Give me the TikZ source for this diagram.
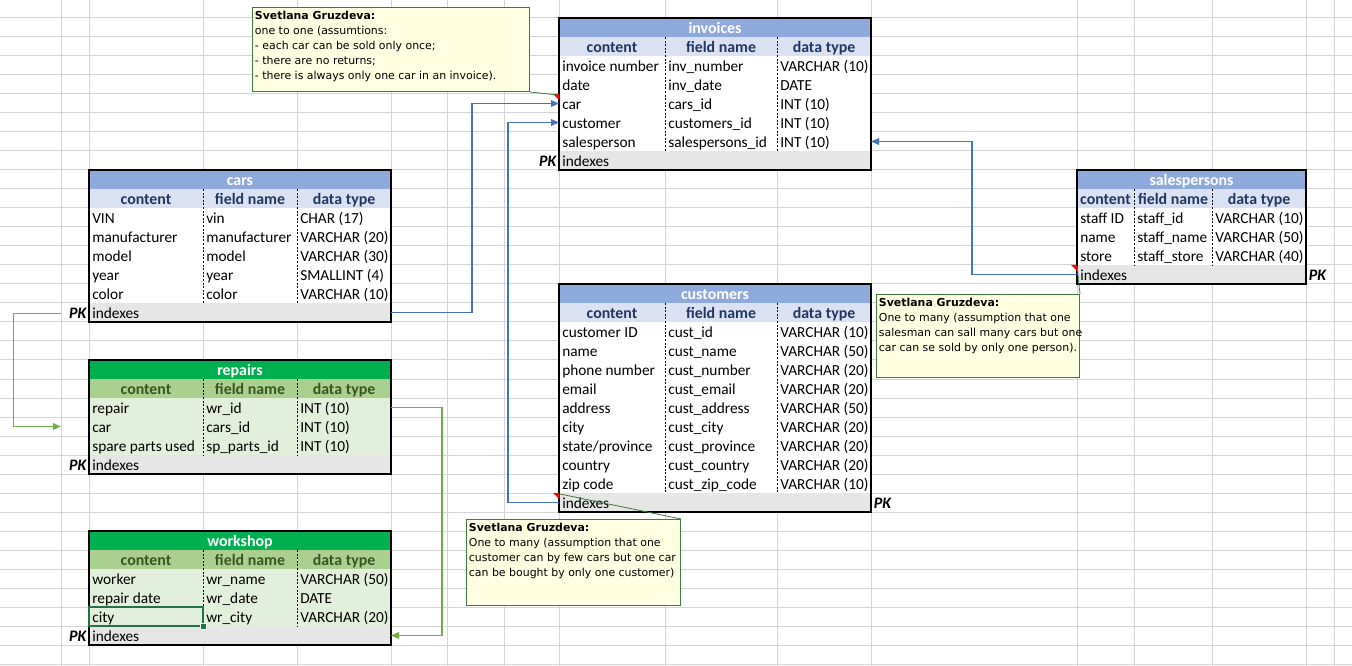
\documentclass[tikz,border=0pt]{standalone}
\usepackage{fontspec}
\setmainfont{Carlito}
\newfontfamily\notefont{DejaVu Sans}
\usetikzlibrary{arrows.meta}

\definecolor{gridgray}{HTML}{D4D4D4}
\definecolor{btitle}{HTML}{8EA9DB}
\definecolor{bhead}{HTML}{D9E1F2}
\definecolor{bbody}{HTML}{FFFFFF}
\definecolor{bheadtext}{HTML}{203764}
\definecolor{gtitle}{HTML}{00B050}
\definecolor{ghead}{HTML}{A9D08E}
\definecolor{gbody}{HTML}{E2EFDA}
\definecolor{gheadtext}{HTML}{375623}
\definecolor{idxgray}{HTML}{E7E6E6}
\definecolor{linkblue}{HTML}{4472C4}
\definecolor{linkgreen}{HTML}{70AD47}
\definecolor{notefill}{HTML}{FFFFE1}
\definecolor{noteedge}{HTML}{3E7B3E}
\definecolor{selgreen}{HTML}{217346}

\tikzset{
  gridline/.style={gridgray, line width=0.75pt},
  titletext/.style={anchor=base, text=white, font=\bfseries\fontsize{11.9pt}{14pt}\selectfont, inner sep=0pt},
  headtext/.style={anchor=base, font=\bfseries\fontsize{11.9pt}{14pt}\selectfont, inner sep=0pt},
  cell/.style={anchor=base west, inner sep=0pt},
  pk/.style={font=\bfseries\itshape\fontsize{12pt}{14pt}\selectfont, inner sep=0pt},
  colsep/.style={black, line width=0.6pt, dash pattern=on 1.5pt off 1.2pt},
  tableedge/.style={black, line width=0.9pt},
  bluelink/.style={linkblue, line width=0.9pt, -{Triangle[length=6pt,width=5pt]}},
  greenlink/.style={linkgreen, line width=0.9pt, -{Triangle[length=6pt,width=5pt]}},
  notebox/.style={draw=noteedge, fill=notefill, line width=0.75pt, inner sep=0pt, anchor=north west},
  notetext/.style={anchor=north west, inner sep=0pt, align=left, xshift=2pt, yshift=-3.2pt,
    font=\notefont\fontsize{8.2pt}{11.25pt}\selectfont},
  noteline/.style={noteedge, line width=0.6pt},
  notemark/.style={fill=red}
}

% #1 name, #2-#5 column edges, #6 top, #7 title, #8 colour set (b/g), #9 rows
\newcommand{\dbtable}[9]{%
  \fill[#8title] (#2,#6) rectangle (#5,#6+19);
  \node[titletext] (#1-title) at ({(#2+#5)/2},#6+15.5) {#7};
  \fill[#8head] (#2,#6+19) rectangle (#5,#6+38);
  \node[headtext, text=#8headtext] (#1-h1) at ({(#2+#3)/2},#6+34.5) {content};
  \node[headtext, text=#8headtext] (#1-h2) at ({(#3+#4)/2},#6+34.5) {field name};
  \node[headtext, text=#8headtext] (#1-h3) at ({(#4+#5)/2},#6+34.5) {data type};
  \foreach \cont/\fld/\typ [count=\i] in {#9} {
    \fill[#8body] (#2,#6+19+19*\i) rectangle (#5,#6+38+19*\i);
    \node[cell] (#1-r\i-a) at (#2+3,#6+34.5+19*\i) {\cont};
    \node[cell] (#1-r\i-b) at (#3+3,#6+34.5+19*\i) {\fld};
    \node[cell] (#1-r\i-c) at (#4+3,#6+34.5+19*\i) {\typ};
    \coordinate (#1-r\i-w) at (#2,#6+28.5+19*\i);
    \coordinate (#1-r\i-e) at (#5,#6+28.5+19*\i);
    \xdef\dbrows{\i}
  }
  \pgfmathsetmacro\idxtop{#6+38+19*\dbrows}
  \fill[idxgray] (#2,\idxtop) rectangle (#5,\idxtop+19);
  \node[cell] (#1-idx) at (#2+3,\idxtop+15.5) {indexes};
  \coordinate (#1-idx-w) at (#2,\idxtop+9.5);
  \coordinate (#1-idx-e) at (#5,\idxtop+9.5);
  \draw[colsep] (#3,#6+19) -- (#3,\idxtop);
  \draw[colsep] (#4,#6+19) -- (#4,\idxtop);
  \draw[tableedge] (#2,#6) rectangle (#5,\idxtop+19);
}

\begin{document}
\begin{tikzpicture}[x=0.75pt, y=-0.75pt, font=\fontsize{11.5pt}{13pt}\selectfont]
  \useasboundingbox (0,0) rectangle (1352,666);
  \fill[white] (0,0) rectangle (1352,666);

  % spreadsheet grid
  \foreach \gx in {61,89,203,297,391,447,504,559,665,777,871,1077,1134,1212,1306,1334}
    \draw[gridline] (\gx,0) -- (\gx,666);
  \foreach \gy in {18,37,...,664}
    \draw[gridline] (0,\gy) -- (1352,\gy);

  % tables
  \dbtable{invoices}{559}{665}{777}{871}{18}{invoices}{b}{%
    invoice number/inv\_number/VARCHAR (10),
    date/inv\_date/DATE,
    car/cars\_id/INT (10),
    customer/customers\_id/INT (10),
    salesperson/salespersons\_id/INT (10)}
  \dbtable{cars}{89}{203}{297}{391}{170}{cars}{b}{%
    VIN/vin/CHAR (17),
    manufacturer/manufacturer/VARCHAR (20),
    model/model/VARCHAR (30),
    year/year/SMALLINT (4),
    color/color/VARCHAR (10)}
  \dbtable{salespersons}{1077}{1134}{1212}{1306}{170}{salespersons}{b}{%
    staff ID/staff\_id/VARCHAR (10),
    name/staff\_name/VARCHAR (50),
    store/staff\_store/VARCHAR (40)}
  \dbtable{customers}{559}{665}{777}{871}{284}{customers}{b}{%
    customer ID/cust\_id/VARCHAR (10),
    name/cust\_name/VARCHAR (50),
    phone number/cust\_number/VARCHAR (20),
    email/cust\_email/VARCHAR (20),
    address/cust\_address/VARCHAR (50),
    city/cust\_city/VARCHAR (20),
    {state/province}/cust\_province/VARCHAR (20),
    country/cust\_country/VARCHAR (20),
    zip code/cust\_zip\_code/VARCHAR (10)}
  \dbtable{repairs}{89}{203}{297}{391}{360}{repairs}{g}{%
    repair/wr\_id/INT (10),
    car/cars\_id/INT (10),
    spare parts used/sp\_parts\_id/INT (10)}
  \dbtable{workshop}{89}{203}{297}{391}{531}{workshop}{g}{%
    worker/wr\_name/VARCHAR (50),
    repair date/wr\_date/DATE,
    city/wr\_city/VARCHAR (20)}

  % primary keys
  \node[pk, anchor=base east, xshift=-4pt] (invoices-pk) at (invoices-idx.base west) {PK};
  \node[pk, anchor=base east, xshift=-4pt] (cars-pk) at (cars-idx.base west) {PK};
  \node[pk, anchor=base east, xshift=-4pt] (repairs-pk) at (repairs-idx.base west) {PK};
  \node[pk, anchor=base east, xshift=-4pt] (workshop-pk) at (workshop-idx.base west) {PK};
  \node[pk, anchor=base west, xshift=2pt] (salespersons-pk) at (salespersons-idx-e |- salespersons-idx.base) {PK};
  \node[pk, anchor=base west, xshift=2pt] (customers-pk) at (customers-idx-e |- customers-idx.base) {PK};

  % selected cell
  \draw[selgreen, line width=1.5pt] (89,607) rectangle (203,626);
  \fill[selgreen, draw=white, line width=0.5pt] (200,623) rectangle (206,629);

  % relations
  \draw[bluelink] (cars-idx-e) -- ++(81,0) |- (invoices-r3-w);
  \draw[bluelink] (customers-idx-w) -- ++(-51,0) |- (invoices-r4-w);
  \draw[bluelink] (salespersons-idx-w) -- ++(-105,0) |- (invoices-r5-e);
  \draw[greenlink] ([xshift=-6pt]cars-pk.west) -- ++(-47,0) |- ([xshift=-6pt]cars-pk.west |- repairs-r2-w);
  \draw[greenlink] (repairs-r1-e) -- ++(51,0) |- (workshop-idx-e);

  % comments
  \coordinate (mark1) at (559,94);
  \coordinate (mark2) at (1077,265);
  \coordinate (mark3) at (559,493);
  \foreach \m in {mark1,mark2,mark3}
    \fill[notemark] (\m) -- ++(-6,0) -- ++(6,6) -- cycle;

  \node[notebox, minimum width=207.75pt, minimum height=63pt] (note1) at (252,7) {};
  \node[notetext] (note1-text) at (note1.north west) {\textbf{Svetlana Gruzdeva:}\\
    one to one (assumtions:\\
    - each car can be sold only once;\\
    - there are no returns;\\
    - there is always only one car in an invoice).};
  \draw[noteline] (note1.south east) -- ([shift={(-1,1)}]mark1);

  \node[notebox, minimum width=152.25pt, minimum height=62.25pt] (note2) at (876,294) {};
  \node[notetext] (note2-text) at (note2.north west) {\textbf{Svetlana Gruzdeva:}\\
    One to many (assumption that one\\
    salesman can sall many cars but one\\
    car can se sold by only one person).};
  \draw[noteline] (note2.north east) -- ([shift={(0,1)}]mark2);

  \node[notebox, minimum width=160.5pt, minimum height=64.5pt] (note3) at (466,519) {};
  \node[notetext] (note3-text) at (note3.north west) {\textbf{Svetlana Gruzdeva:}\\
    One to many (assumption that one\\
    customer can by few cars but one car\\
    can be bought by only one customer)};
  \draw[noteline] (note3.north east) -- ([shift={(1,1)}]mark3);
\end{tikzpicture}
\end{document}
